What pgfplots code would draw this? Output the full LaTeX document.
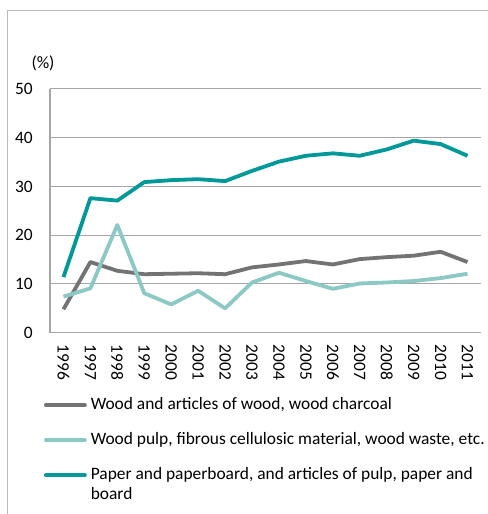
\documentclass[border=0pt]{standalone}
\usepackage{pgfplots}
\pgfplotsset{compat=1.18}
\usepackage{fontspec}
\setmainfont{Carlito}
\definecolor{cteal}{RGB}{0,152,152}
\definecolor{clight}{RGB}{140,200,196}
\definecolor{cgray}{RGB}{115,115,115}
\definecolor{cgrid}{RGB}{166,166,166}
\definecolor{cframe}{RGB}{185,185,185}
\newcommand{\cf}{\fontsize{17.4bp}{20bp}\selectfont}
\begin{document}
\begin{tikzpicture}
\useasboundingbox (0bp,0bp) rectangle (488bp,514bp);
\draw[cframe,line width=1.3bp] (7.3bp,-2bp) -- (7.3bp,503.3bp) -- (490bp,503.3bp);
\node[font=\cf,inner sep=0pt] at (43bp,450.5bp) {(\%)};
\begin{axis}[
  at={(50bp,181.3bp)}, anchor=south west,
  scale only axis, width=431bp, height=243.7bp,
  xmin=-0.5, xmax=15.5, ymin=0, ymax=50,
  axis x line=bottom, axis y line=left,
  axis line style={cgrid,line width=1.3bp,-},
  ytick={0,10,...,50},
  xtick={0,...,15},
  xticklabels={1996,1997,1998,1999,2000,2001,2002,2003,2004,2005,2006,2007,2008,2009,2010,2011},
  major tick length=0pt,
  ymajorgrids, grid style={cgrid,line width=1bp},
  /pgf/number format/assume math mode=true,
  tick label style={font=\cf, inner sep=0pt},
  yticklabel style={anchor=east},
  yticklabel shift=17bp,
  xticklabel style={rotate=-90, anchor=west},
  xticklabel shift=12bp,
  legend style={at={(-0.0232,-0.265)}, anchor=north west, draw=none, fill=none,
    inner sep=0pt, outer sep=0pt, row sep=19bp, column sep=0pt,
    nodes={inner sep=0pt, font=\cf, text height=12bp, text depth=4bp}},
  legend cell align=left,
  legend image code/.code={\draw[#1,line cap=round] (4bp,0bp) -- (43bp,0bp); \path (0bp,0bp) (47bp,0bp);},
  every axis plot/.append style={line width=3.8bp, line join=round},
]
\addplot[cgray] coordinates {(0,4.8) (1,14.5) (2,12.7) (3,12.0) (4,12.1) (5,12.2) (6,12.0) (7,13.4) (8,14.0) (9,14.7) (10,14.0) (11,15.1) (12,15.5) (13,15.8) (14,16.6) (15,14.5)};
\addlegendentry{Wood and articles of wood, wood charcoal}
\addplot[clight] coordinates {(0,7.4) (1,9.1) (2,22.1) (3,8.1) (4,5.8) (5,8.6) (6,5.0) (7,10.3) (8,12.3) (9,10.6) (10,9.0) (11,10.1) (12,10.3) (13,10.6) (14,11.2) (15,12.1)};
\addlegendentry{Wood pulp, fibrous cellulosic material, wood waste, etc.}
\addplot[cteal] coordinates {(0,11.4) (1,27.6) (2,27.1) (3,30.9) (4,31.3) (5,31.5) (6,31.1) (7,33.2) (8,35.1) (9,36.3) (10,36.8) (11,36.3) (12,37.6) (13,39.4) (14,38.7) (15,36.3)};
\addlegendentry{\vtop{\hbox{Paper and paperboard, and articles of pulp, paper and}\hbox{board}}}
\end{axis}
\end{tikzpicture}
\end{document}
